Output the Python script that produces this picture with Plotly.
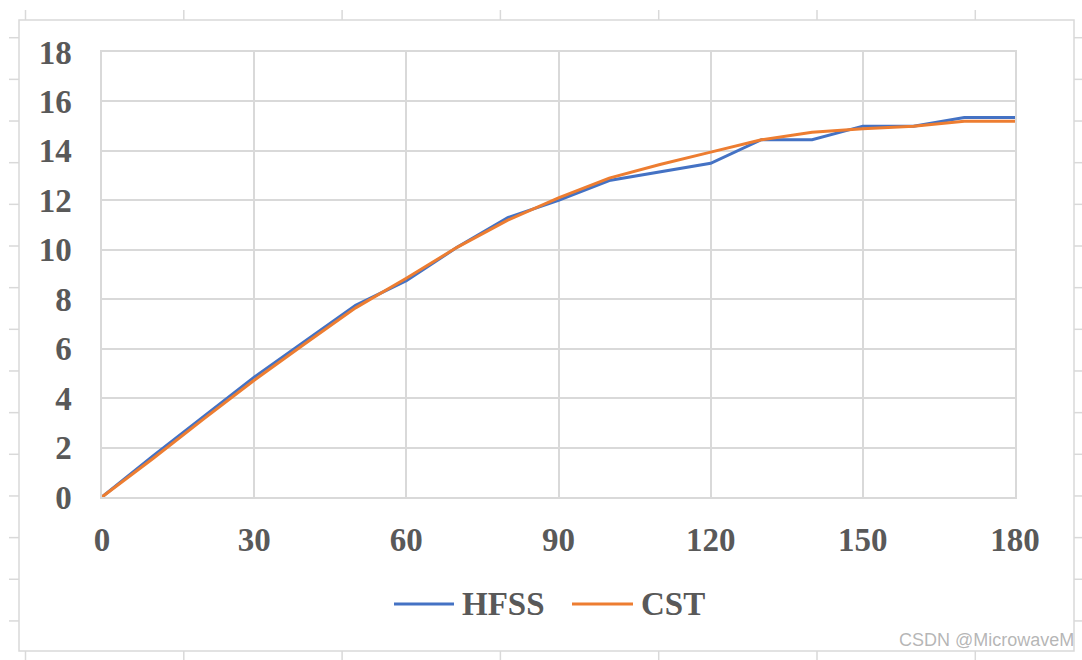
import plotly.graph_objects as go

angles = [0, 10, 20, 30, 40, 50, 60, 70, 80, 90, 100, 110, 120, 130, 140, 150, 160, 170, 180]
hfss = [0, 1.65, 3.25, 4.85, 6.3, 7.75, 8.75, 10.1, 11.3, 12.0, 12.8, 13.15, 13.5, 14.45, 14.45, 15.0, 15.0, 15.35, 15.35]
cst = [0, 1.55, 3.15, 4.72, 6.2, 7.65, 8.85, 10.1, 11.2, 12.1, 12.9, 13.45, 13.95, 14.45, 14.75, 14.9, 15.0, 15.2, 15.2]
series_names = ["HFSS", "CST"]
series_colors = ["#4472C4", "#ED7D31"]
x_ticks = [0, 30, 60, 90, 120, 150, 180]
y_ticks = [0, 2, 4, 6, 8, 10, 12, 14, 16, 18]

W, H = 1082, 660
GRID = "#d9d9d9"
TXT = "#595959"
SERIF = "Times New Roman, Liberation Serif, serif"

def px(x):
    return x / W

def py(y):
    return (H - y) / H

fig = go.Figure()
for name, vals, col in zip(series_names, [hfss, cst], series_colors):
    fig.add_trace(go.Scatter(x=angles, y=vals, mode="lines", name=name,
                             line=dict(color=col, width=3), showlegend=False))

shapes = []
# outer chart border
shapes.append(dict(type="rect", xref="paper", yref="paper", x0=px(19), x1=px(1074), y0=py(651), y1=py(20),
                   line=dict(color=GRID, width=1.5), layer="below"))
# spreadsheet-like outer tick marks
for k in range(7):
    x = 25.5 + 158.3 * k
    shapes.append(dict(type="line", xref="paper", yref="paper", x0=px(x), x1=px(x), y0=py(10), y1=py(20),
                       line=dict(color=GRID, width=1.5)))
    shapes.append(dict(type="line", xref="paper", yref="paper", x0=px(x), x1=px(x), y0=py(651), y1=py(660),
                       line=dict(color=GRID, width=1.5)))
for k in range(15):
    y = 37.7 + 41.66 * k
    shapes.append(dict(type="line", xref="paper", yref="paper", x0=px(9), x1=px(19), y0=py(y), y1=py(y),
                       line=dict(color=GRID, width=1.5)))
    shapes.append(dict(type="line", xref="paper", yref="paper", x0=px(1074), x1=px(1082), y0=py(y), y1=py(y),
                       line=dict(color=GRID, width=1.5)))

annotations = []
# manual legend
leg = [(394, 454, 460), (572, 633, 639)]
for (l0, l1, tx), name, col in zip(leg, series_names, series_colors):
    shapes.append(dict(type="line", xref="paper", yref="paper", x0=px(l0), x1=px(l1), y0=py(604), y1=py(604),
                       line=dict(color=col, width=3)))
    annotations.append(dict(xref="paper", yref="paper", x=px(tx), y=py(604), text=name, showarrow=False,
                            xanchor="left", yanchor="middle",
                            font=dict(family=SERIF, size=33, color=TXT, weight="bold")))

annotations.append(dict(xref="paper", yref="paper", x=px(1076), y=py(640), text="CSDN @MicrowaveM",
                        showarrow=False, xanchor="right", yanchor="middle",
                        font=dict(family="Liberation Sans Narrow, Liberation Sans, Arial, sans-serif", size=18,
                                  color="rgba(150,150,150,0.7)")))

axis_font = dict(family=SERIF, size=33, color=TXT, weight="bold")
fig.update_layout(
    width=W, height=H, autosize=False,
    margin=dict(l=0, r=0, t=0, b=0),
    paper_bgcolor="white", plot_bgcolor="white",
    xaxis=dict(domain=[px(102), px(1015)], range=[0, 180], tickvals=x_ticks, showgrid=True,
               gridcolor=GRID, gridwidth=1.5, zeroline=False, showline=True, linecolor=GRID, linewidth=1.5,
               mirror=True, tickfont=axis_font, ticks="", ticklabelstandoff=13, automargin=False),
    yaxis=dict(domain=[py(497), py(52)], range=[0, 18], tickvals=y_ticks, showgrid=True,
               gridcolor=GRID, gridwidth=1.5, zeroline=False, showline=True, linecolor=GRID, linewidth=1.5,
               mirror=True, tickfont=axis_font, ticks="", ticklabelstandoff=22, automargin=False),
    shapes=shapes, annotations=annotations, showlegend=False,
)

fig.write_html("out.html", config={"displayModeBar": False},
               post_script="document.body.style.margin='0';document.body.style.overflow='hidden';")
